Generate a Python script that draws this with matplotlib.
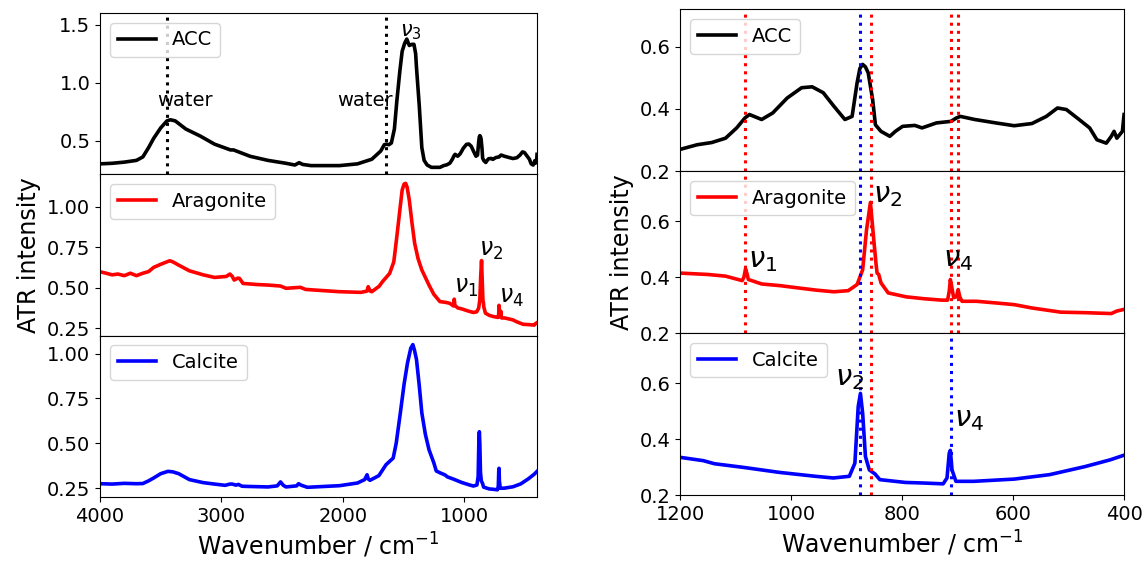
import numpy as np
import matplotlib
matplotlib.use("Agg")
import matplotlib.pyplot as plt

# ---- spectra (wavenumber / cm-1, ATR intensity) ----
acc_wn = [4000, 3900, 3800, 3700, 3647, 3600, 3558, 3500, 3449, 3420, 3380, 3293, 3175, 3057,
          2925, 2900, 2763, 2616, 2468, 2395, 2360, 2330, 2262, 2027, 1879, 1761, 1688, 1658,
          1640, 1620, 1600, 1575, 1555, 1530, 1511, 1490, 1473, 1460, 1452, 1430, 1414, 1400,
          1393, 1370, 1349, 1330, 1305, 1270, 1246, 1200, 1169, 1143, 1118, 1098, 1083, 1075,
          1053, 1033, 1007, 981, 962, 942, 923, 903, 890, 881, 876, 871, 866, 861, 853, 848,
          838, 822, 812, 799, 777, 764, 738, 712, 702, 695, 669, 631, 598, 566, 540, 520, 504,
          481, 462, 449, 432, 423, 418, 413, 403, 400]
acc_int = [0.30, 0.305, 0.315, 0.33, 0.36, 0.44, 0.52, 0.61, 0.67, 0.68, 0.67, 0.60, 0.54, 0.47,
           0.42, 0.42, 0.365, 0.33, 0.305, 0.29, 0.31, 0.295, 0.285, 0.285, 0.30, 0.34, 0.41, 0.465,
           0.47, 0.465, 0.48, 0.60, 0.84, 1.10, 1.27, 1.34, 1.375, 1.34, 1.32, 1.33, 1.33, 1.25,
           1.13, 0.80, 0.44, 0.33, 0.29, 0.27, 0.27, 0.27, 0.285, 0.292, 0.306, 0.339, 0.371, 0.382,
           0.366, 0.387, 0.435, 0.468, 0.471, 0.452, 0.409, 0.366, 0.376, 0.484, 0.53, 0.543, 0.535, 0.516, 0.43, 0.349,
           0.328, 0.312, 0.328, 0.344, 0.347, 0.339, 0.355, 0.36, 0.371, 0.376, 0.366, 0.355, 0.346, 0.353, 0.376, 0.403, 0.398,
           0.366, 0.339, 0.301, 0.29, 0.312, 0.328, 0.306, 0.328, 0.382]

arag_wn = [4000, 3950, 3900, 3853, 3800, 3750, 3700, 3647, 3600, 3558, 3500, 3426, 3400, 3352,
           3264, 3150, 3057, 2960, 2930, 2910, 2895, 2865, 2851, 2822, 2700, 2616, 2513, 2468,
           2350, 2306, 2027, 1850, 1800, 1791, 1775, 1761, 1700, 1673, 1614, 1580, 1555, 1530,
           1511, 1495, 1482, 1470, 1452, 1430, 1408, 1380, 1349, 1290, 1250, 1200, 1150, 1118,
           1088, 1085, 1082, 1079, 1077, 1053, 1020, 988, 955, 923, 897, 881, 871, 864, 857, 851,
           847, 845, 842, 838, 825, 793, 760, 728, 718, 715, 713, 710, 707, 702, 699, 696, 692,
           666, 631, 598, 566, 514, 468, 423, 413, 400]
arag_int = [0.599, 0.59, 0.58, 0.585, 0.575, 0.59, 0.575, 0.59, 0.60, 0.626, 0.645, 0.667, 0.66, 0.64,
            0.605, 0.58, 0.564, 0.57, 0.585, 0.57, 0.548, 0.56, 0.558, 0.527, 0.52, 0.517, 0.511, 0.497,
            0.503, 0.49, 0.476, 0.472, 0.48, 0.507, 0.48, 0.476, 0.51, 0.538, 0.589, 0.66, 0.815, 0.98,
            1.103, 1.14, 1.144, 1.12, 1.04, 0.90, 0.774, 0.68, 0.61, 0.517, 0.46, 0.415, 0.41, 0.404,
            0.388, 0.40, 0.43, 0.41, 0.392, 0.376, 0.37, 0.362, 0.354, 0.348, 0.352, 0.374, 0.427, 0.57, 0.668, 0.535,
            0.45, 0.415, 0.41, 0.38, 0.344, 0.33, 0.323, 0.318, 0.318, 0.35, 0.392, 0.36, 0.327, 0.33, 0.356, 0.33, 0.314,
            0.314, 0.308, 0.302, 0.29, 0.275, 0.273, 0.27, 0.279, 0.285]

calc_wn = [4000, 3900, 3800, 3700, 3647, 3600, 3558, 3500, 3440, 3400, 3352, 3264, 3150, 3057,
           2969, 2930, 2910, 2880, 2860, 2830, 2793, 2616, 2540, 2513, 2490, 2468, 2380, 2365,
           2340, 2292, 2027, 1879, 1820, 1800, 1790, 1776, 1703, 1644, 1585, 1560, 1526, 1495,
           1467, 1440, 1423, 1410, 1393, 1370, 1349, 1320, 1290, 1250, 1230, 1200, 1158, 1138,
           1086, 1021, 956, 924, 895, 885, 879, 875, 871, 866, 859, 852, 849, 840, 794, 762, 726,
           719, 715, 713, 710, 703, 671, 598, 534, 470, 425, 401]
calc_int = [0.274, 0.272, 0.276, 0.274, 0.275, 0.29, 0.306, 0.33, 0.343, 0.34, 0.33, 0.297, 0.28, 0.272,
            0.265, 0.272, 0.272, 0.266, 0.27, 0.26, 0.259, 0.256, 0.262, 0.284, 0.265, 0.256, 0.262, 0.274,
            0.265, 0.254, 0.263, 0.278, 0.297, 0.324, 0.30, 0.293, 0.319, 0.38, 0.417, 0.50, 0.669, 0.83,
            0.948, 1.03, 1.05, 1.02, 0.967, 0.82, 0.669, 0.55, 0.464, 0.39, 0.345, 0.335, 0.323, 0.312,
            0.299, 0.281, 0.267, 0.261, 0.267, 0.314, 0.517, 0.564, 0.493, 0.338, 0.29, 0.28, 0.276, 0.255, 0.245, 0.243, 0.24,
            0.261, 0.35, 0.36, 0.29, 0.249, 0.249, 0.257, 0.273, 0.302, 0.326, 0.342]

names = ['ACC', 'Aragonite', 'Calcite']
colors = ['k', 'r', 'b']

# band positions
water_lines = [3450, 1645]
arag_lines = [1083, 856, 712, 700]
calc_lines = [875, 712]

fs_tick = 14
fs_label = 17
lw_data = 2.6

fig = plt.figure(figsize=(11.47, 5.62), dpi=100)
gs_l = fig.add_gridspec(3, 1, left=0.0872, right=0.4682, bottom=0.1157, top=0.9769, hspace=0)
gs_r = fig.add_gridspec(3, 1, left=0.5929, right=0.980, bottom=0.1192, top=0.9835, hspace=0)

spectra = [(acc_wn, acc_int), (arag_wn, arag_int), (calc_wn, calc_int)]

# ---------------- left: full range ----------------
axl = []
for i in range(3):
    ax = fig.add_subplot(gs_l[i], sharex=axl[0] if axl else None)
    axl.append(ax)
    wn, it = spectra[i]
    ax.plot(wn, it, color=colors[i], lw=lw_data, label=names[i])
    ax.legend(loc='upper left', fontsize=fs_tick)
    ax.tick_params(labelsize=fs_tick)
    if i < 2:
        ax.tick_params(labelbottom=False)

axl[0].set_xlim(4000, 400)
axl[0].set_ylim(0.21, 1.6)
axl[0].set_yticks([0.5, 1.0, 1.5])
axl[1].set_ylim(0.205, 1.20)
axl[1].set_yticks([0.25, 0.5, 0.75, 1.0])
axl[2].set_ylim(0.20, 1.10)
axl[2].set_yticks([0.25, 0.5, 0.75, 1.0])
axl[2].set_xticks([4000, 3000, 2000, 1000])

for x in water_lines:
    axl[0].axvline(x, color='k', ls=':', lw=2.2)
axl[0].text(3300, 0.8, 'water', ha='center', fontsize=fs_tick)
axl[0].text(1815, 0.8, 'water', ha='center', fontsize=fs_tick)
axl[0].text(1530, 1.40, r'$\nu_3$', fontsize=15)
axl[1].text(1084, 0.47, r'$\nu_1$', fontsize=17)
axl[1].text(878, 0.70, r'$\nu_2$', fontsize=17)
axl[1].text(716, 0.41, r'$\nu_4$', fontsize=17)
axl[1].set_ylabel('ATR intensity', fontsize=fs_label)
axl[2].set_xlabel('Wavenumber / cm$^{-1}$', fontsize=fs_label)

# ---------------- right: 1200-400 zoom ----------------
axr = []
for i in range(3):
    ax = fig.add_subplot(gs_r[i], sharex=axr[0] if axr else None)
    axr.append(ax)
    wn, it = spectra[i]
    ax.plot(wn, it, color=colors[i], lw=lw_data, label=names[i])
    ax.legend(loc='upper left', fontsize=fs_tick)
    ax.tick_params(labelsize=fs_tick)
    ax.set_yticks([0.2, 0.4, 0.6])
    if i < 2:
        ax.tick_params(labelbottom=False)
        ax.axvline(calc_lines[0], color='b', ls=':', lw=2.2)
        for x in arag_lines:
            ax.axvline(x, color='r', ls=':', lw=2.2)
    else:
        for x in calc_lines:
            ax.axvline(x, color='b', ls=':', lw=2.2)
        ax.axvline(arag_lines[1], color='r', ls=':', lw=2.2)

axr[0].set_xlim(1200, 400)
axr[0].set_ylim(0.2, 0.72)
axr[1].set_ylim(0.2, 0.78)
axr[2].set_ylim(0.2, 0.78)
axr[2].set_xticks([1200, 1000, 800, 600, 400])

axr[1].text(1077, 0.435, r'$\nu_1$', fontsize=21)
axr[1].text(853, 0.67, r'$\nu_2$', fontsize=21)
axr[1].text(726, 0.44, r'$\nu_4$', fontsize=21)
axr[2].text(921, 0.595, r'$\nu_2$', fontsize=21)
axr[2].text(707, 0.445, r'$\nu_4$', fontsize=21)
axr[1].set_ylabel('ATR intensity', fontsize=fs_label)
axr[2].set_xlabel('Wavenumber / cm$^{-1}$', fontsize=fs_label)

fig.savefig('out.png', dpi=100)
